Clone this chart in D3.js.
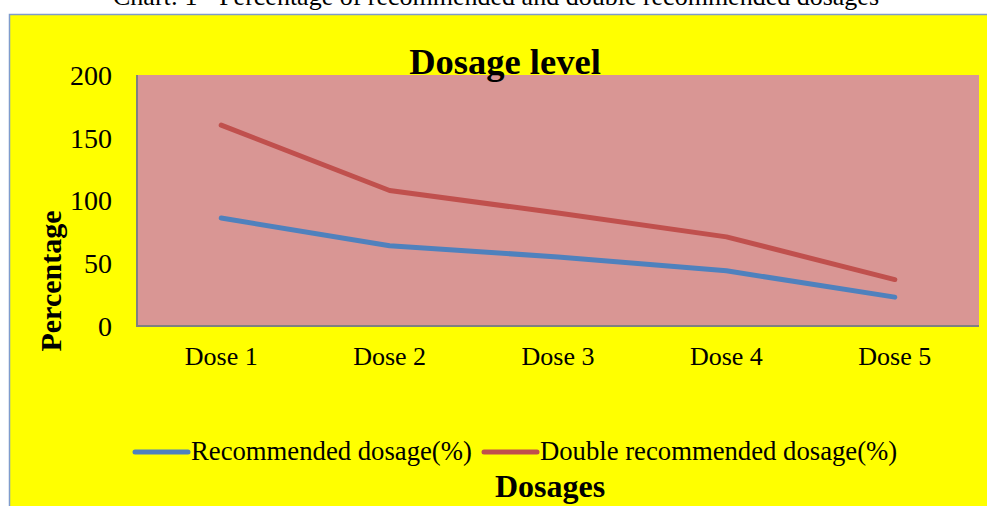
<!DOCTYPE html>
<html>
<head>
<meta charset="utf-8">
<script src="https://cdn.jsdelivr.net/npm/d3@7"></script>
<style>
  body { margin: 0; background: #ffffff; }
  svg text { font-family: "Liberation Serif", "Times New Roman", serif; fill: #000; }
</style>
</head>
<body>
<div id="chart"></div>
<script>
// values
let categories = ["Dose 1", "Dose 2", "Dose 3", "Dose 4", "Dose 5"];
let recommended = [86, 64, 55, 44, 23];
let doubleRecommended = [160, 108, 90, 71, 37];
let yTicks = [0, 50, 100, 150, 200];
let seriesNames = ["Recommended dosage(%)", "Double recommended dosage(%)"];
let seriesColors = ["#4f81bd", "#c0504d"];

let width = 987, height = 506;
let plot = {left: 137, right: 979, top: 75, bottom: 326};

let svg = d3.select("#chart")
  .append("svg")
    .attr("width", width)
    .attr("height", height);

// caption above the chart frame (cut off at the top, as in the source)
svg.append("text")
    .attr("x", 496)
    .attr("y", 5)
    .attr("text-anchor", "middle")
    .style("font-size", "26px")
    .text("Chart: 1 - Percentage of recommended and double recommended dosages");

// yellow chart area
svg.append("rect")
    .attr("x", 9.5)
    .attr("y", 14.5)
    .attr("width", width)
    .attr("height", height)
    .attr("fill", "#ffff00")
    .attr("stroke", "#7f9ccc")
    .attr("stroke-width", 1.5);

// scales
let x = d3.scaleBand()
    .domain(categories)
    .range([plot.left, plot.right]);

let y = d3.scaleLinear()
    .domain([0, 200])
    .range([plot.bottom, plot.top]);

// plot area
svg.append("rect")
    .attr("x", plot.left)
    .attr("y", plot.top)
    .attr("width", plot.right - plot.left)
    .attr("height", plot.bottom - plot.top)
    .attr("fill", "#d99694");

// grey left / bottom edge of plot area
svg.append("path")
    .attr("d", "M" + plot.left + "," + plot.top + "V" + plot.bottom + "H" + plot.right)
    .attr("fill", "none")
    .attr("stroke", "#808080")
    .attr("stroke-width", 2);

// Y axis
let yAxis = svg.append("g")
    .attr("transform", "translate(" + plot.left + ",0)")
    .call(d3.axisLeft(y).tickValues(yTicks).tickSize(0).tickPadding(25));
yAxis.select(".domain").remove();
yAxis.selectAll("text")
    .style("font-size", "28px")
    .style("font-family", "'Liberation Serif', 'Times New Roman', serif")
    .attr("dy", "0.33em");

// X axis
let xAxis = svg.append("g")
    .attr("transform", "translate(0," + plot.bottom + ")")
    .call(d3.axisBottom(x).tickSize(0).tickPadding(21));
xAxis.select(".domain").remove();
xAxis.selectAll("text")
    .style("font-size", "26px")
    .style("font-family", "'Liberation Serif', 'Times New Roman', serif")
    .attr("dy", "0.71em");

// lines
let line = d3.line()
    .x(function(d, i) { return x(categories[i]) + x.bandwidth() / 2; })
    .y(function(d) { return y(d); });

[recommended, doubleRecommended].forEach(function(values, i) {
  svg.append("path")
      .datum(values)
      .attr("d", line)
      .attr("fill", "none")
      .attr("stroke", seriesColors[i])
      .attr("stroke-width", 5)
      .attr("stroke-linecap", "round")
      .attr("stroke-linejoin", "round");
});

// title
svg.append("text")
    .attr("x", 505)
    .attr("y", 74)
    .attr("text-anchor", "middle")
    .style("font-size", "36.5px")
    .style("font-weight", "bold")
    .text("Dosage level");

// y axis title
svg.append("text")
    .attr("transform", "translate(61,281) rotate(-90)")
    .attr("text-anchor", "middle")
    .style("font-size", "30px")
    .style("font-weight", "bold")
    .text("Percentage");

// legend
let legendX = [133, 482];
seriesNames.forEach(function(name, i) {
  let g = svg.append("g")
      .attr("transform", "translate(" + legendX[i] + ",452)");
  g.append("line")
      .attr("x1", 2).attr("x2", 55)
      .attr("y1", 0).attr("y2", 0)
      .attr("stroke", seriesColors[i])
      .attr("stroke-width", 5)
      .attr("stroke-linecap", "round");
  g.append("text")
      .attr("x", 58)
      .attr("y", 8)
      .style("font-size", "26.7px")
      .text(name);
});

// x axis title
svg.append("text")
    .attr("x", 550)
    .attr("y", 497)
    .attr("text-anchor", "middle")
    .style("font-size", "32px")
    .style("font-weight", "bold")
    .text("Dosages");
</script>
</body>
</html>
